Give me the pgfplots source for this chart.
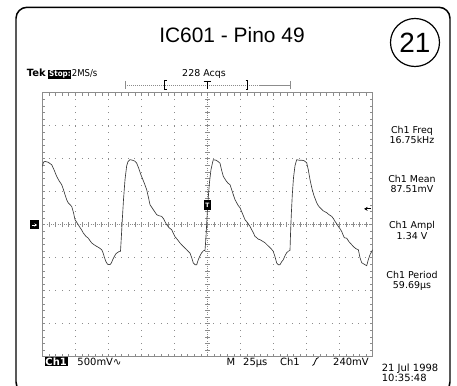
\documentclass[border=0pt]{standalone}
\usepackage{pgfplots}
\pgfplotsset{compat=1.18}
\usepackage{pgfplotstable}
\usetikzlibrary{arrows.meta}
\usepackage{fontspec}
\setmainfont{DejaVu Sans}
\newfontfamily\helv{Liberation Sans}
\newfontfamily\cond{DejaVu Sans Condensed}

% Channel 1 trace: time in microseconds (25 us/div), voltage in volts (500 mV/div)
\pgfplotstableread{
t V
-125.00 0.883
-124.09 0.947
-122.96 0.959
-120.69 0.947
-117.89 0.909
-116.15 0.833
-114.10 0.732
-112.36 0.667
-110.32 0.606
-108.96 0.530
-107.82 0.455
-106.54 0.379
-105.33 0.329
-104.04 0.303
-102.75 0.277
-101.39 0.182
-100.26 0.076
-98.74 0.030
-97.00 -0.026
-95.34 -0.076
-93.98 -0.126
-91.93 -0.177
-90.19 -0.205
-88.91 -0.242
-87.62 -0.277
-85.88 -0.303
-83.84 -0.329
-82.10 -0.348
-80.05 -0.379
-79.07 -0.424
-77.94 -0.500
-76.80 -0.561
-75.67 -0.598
-73.77 -0.606
-72.64 -0.576
-71.73 -0.530
-70.37 -0.477
-69.23 -0.439
-67.72 -0.417
-66.74 -0.405
-65.83 -0.402
-65.22 -0.197
-64.47 0.076
-63.56 0.379
-62.42 0.682
-61.14 0.894
-60.15 0.955
-58.64 0.985
-56.75 0.977
-54.86 0.962
-53.57 0.932
-52.21 0.864
-50.70 0.773
-49.18 0.697
-47.67 0.621
-46.00 0.530
-44.64 0.409
-43.51 0.303
-41.99 0.258
-40.48 0.212
-38.44 0.152
-36.70 0.136
-34.66 0.126
-33.29 0.091
-32.16 0.045
-30.87 0.000
-29.13 -0.045
-27.09 -0.076
-25.73 -0.136
-24.59 -0.182
-22.70 -0.227
-20.81 -0.277
-18.54 -0.326
-15.74 -0.379
-14.38 -0.409
-13.24 -0.429
-11.96 -0.500
-10.74 -0.580
-9.46 -0.606
-8.17 -0.606
-6.96 -0.530
-5.67 -0.470
-4.39 -0.424
-3.03 -0.394
-1.89 -0.389
-1.20 -0.200
-0.60 0.020
0.00 0.240
0.80 0.470
1.50 0.640
2.60 0.830
3.80 0.940
4.39 0.985
6.43 0.977
8.17 0.955
9.46 0.932
10.59 0.833
11.96 0.732
14.00 0.667
15.51 0.629
17.02 0.606
18.31 0.530
19.52 0.455
20.81 0.379
22.09 0.333
23.31 0.288
24.59 0.258
26.48 0.167
28.37 0.076
30.27 0.030
32.16 -0.026
33.44 -0.076
34.66 -0.121
35.94 -0.177
37.23 -0.197
38.44 -0.220
39.72 -0.227
41.62 -0.250
43.51 -0.273
45.40 -0.311
47.29 -0.348
48.80 -0.379
49.79 -0.405
51.07 -0.485
52.36 -0.580
53.57 -0.606
54.86 -0.606
56.14 -0.561
57.36 -0.530
58.64 -0.470
59.93 -0.424
61.14 -0.402
62.42 -0.389
62.80 -0.152
63.41 0.152
64.16 0.455
65.07 0.712
66.21 0.894
67.49 0.985
69.23 0.977
71.28 0.977
73.02 0.970
75.06 0.939
76.27 0.833
77.56 0.682
79.07 0.545
80.58 0.439
82.63 0.333
83.84 0.288
85.12 0.258
87.39 0.212
90.19 0.182
91.93 0.152
93.98 0.126
95.34 0.091
96.47 0.050
97.76 0.015
98.97 -0.026
100.26 -0.061
101.54 -0.102
102.53 -0.152
103.51 -0.197
105.33 -0.205
107.07 -0.258
109.11 -0.303
110.85 -0.341
112.36 -0.364
114.10 -0.379
114.78 -0.439
115.39 -0.500
116.68 -0.576
117.89 -0.591
119.17 -0.606
120.46 -0.621
121.67 -0.530
122.96 -0.455
124.24 -0.405
125.00 -0.379
}\chone

\definecolor{grat}{gray}{0.55}
\definecolor{trace}{gray}{0.22}

\begin{document}
\begin{tikzpicture}
\useasboundingbox (0,0) rectangle (457bp,386bp);
\clip (0,0) rectangle (457bp,386bp);

\begin{axis}[
  at={(42.3bp,29.3bp)}, anchor=south west,
  width=330.4bp, height=264bp, scale only axis,
  xmin=-125, xmax=125, ymin=-2, ymax=2,
  xtick={-100,-75,...,100}, ytick={-1.5,-1,...,1.5},
  minor xtick={-120,-115,...,120},
  minor ytick={-1.9,-1.8,...,1.9},
  xticklabels={}, yticklabels={},
  tick align=inside, major tick length=3bp, minor tick length=3bp,
  tick style={grat, line width=0.5pt},
  xmajorgrids, ymajorgrids,
  major grid style={grat, line width=0.8pt, dash pattern=on 0.7pt off 5.908pt},
  axis line style={grat, line width=0.7pt},
]
% centre crosshair with its subdivision marks
\draw[grat, line width=0.6pt, dash pattern=on 0.7pt off 1.5pt] (axis cs:-125,0) -- (axis cs:125,0);
\draw[grat, line width=0.6pt, dash pattern=on 0.7pt off 1.5pt] (axis cs:0,-2) -- (axis cs:0,2);
\pgfplotsinvokeforeach{-120,-115,...,120}{
  \draw[grat, line width=0.6pt] (axis cs:#1,-0.035) -- (axis cs:#1,0.035);
}
\pgfplotsinvokeforeach{-1.9,-1.8,...,1.9}{
  \draw[grat, line width=0.6pt] (axis cs:-1.6,#1) -- (axis cs:1.6,#1);
}
\addplot[trace, line width=0.65pt, mark=none] table[x=t, y=V] {\chone};
% trigger point marker
\node[fill=black, text=white, inner sep=0.6pt, minimum width=6.5bp, minimum height=10bp,
      font=\bfseries\fontsize{6}{6}\selectfont] at (axis cs:0,0.30) {T};
% trigger level arrow (240 mV)
\draw[black, line width=0.8pt, -{Stealth[length=3.5bp,width=4bp]}] (axis cs:124,0.24) -- (axis cs:118.5,0.24);
\end{axis}

\begin{scope}[x=1bp, y=-1bp, yshift=386bp]
  % outer panel
  \draw[black, line width=1.5pt, rounded corners=11bp] (16,7.3) rectangle (450,393);
  \node[font=\helv\fontsize{21}{21}\selectfont, anchor=base] at (232,43) {IC601 - Pino 49};
  \draw[black, line width=1.2pt] (415,42.5) ellipse [x radius=24.5, y radius=24];
  \node[font=\helv\fontsize{28}{28}\selectfont, anchor=base] at (415,53) {21};

  % status line
  \node[font=\bfseries\fontsize{10}{10}\selectfont, anchor=base west, inner sep=0pt] at (26.7,77) {Tek};
  \node[font=\cond\bfseries\fontsize{8}{8}\selectfont, anchor=base west, fill=black, text=white,
        inner sep=0.7pt] at (48.3,76.5) {Stop:};
  \node[font=\cond\fontsize{9.5}{9.5}\selectfont, anchor=base west, inner sep=0pt] at (71.7,77) {2MS/s};
  \node[font=\fontsize{9.5}{9.5}\selectfont, anchor=base, inner sep=0pt] at (204,76.7) {228 Acqs};

  % record position bar
  \draw[grat, line width=0.6pt, dash pattern=on 1.2pt off 0.8pt] (125,85) -- (290,85);
  \draw[grat, line width=0.6pt] (125,81) -- (125,89) (290,81) -- (290,89);
  \draw[black, line width=0.8pt] (166.5,80.5) -- (164.5,80.5) -- (164.5,89.5) -- (166.5,89.5);
  \draw[black, line width=0.8pt] (245.5,80.5) -- (247.5,80.5) -- (247.5,89.5) -- (245.5,89.5);
  \draw[black, line width=0.8pt] (203.5,81) -- (210.5,81) (207,81) -- (207,89.5);

  % channel 1 ground reference
  \fill[black] (29.5,220.5) rectangle (38.5,229.5);
  \draw[white, line width=0.8pt, -{Stealth[length=2.5bp,width=3bp]}] (31.5,225) -- (37,225);

  % measurements
  \begin{scope}[every node/.style={font=\fontsize{9.5}{9.5}\selectfont, anchor=base, inner sep=0pt}]
    \node at (412,133.8) {Ch1 Freq};
    \node at (412,143.3) {16.75kHz};
    \node at (412,182.8) {Ch1 Mean};
    \node at (412,192.2) {87.51mV};
    \node at (412,229) {Ch1 Ampl};
    \node at (412,239.5) {1.34 V};
    \node at (412,279) {Ch1 Period};
    \node at (412,289) {59.69µs};
  \end{scope}

  % bottom readout
  \begin{scope}[every node/.style={font=\fontsize{10}{10}\selectfont, anchor=base west, inner sep=0pt}]
    \node[fill=black, text=white, font=\bfseries\fontsize{10}{10}\selectfont, inner sep=0.8pt] at (44.5,365.5) {Ch1};
    \node at (77.3,365.5) {500mV∿};
    \node at (226.5,365.5) {M};
    \node at (243,365.5) {25µs};
    \node at (280,365.5) {Ch1};
    \node at (333,365.5) {240mV};
    \node at (381.7,371.2) {21 Jul 1998};
    \node at (381.7,382) {10:35:48};
  \end{scope}
  % rising-edge trigger symbol
  \draw[black, line width=0.8pt] (312.5,365.5) .. controls (315,365.5) and (315,357.5) .. (318.5,357.5);
\end{scope}
\end{tikzpicture}
\end{document}
